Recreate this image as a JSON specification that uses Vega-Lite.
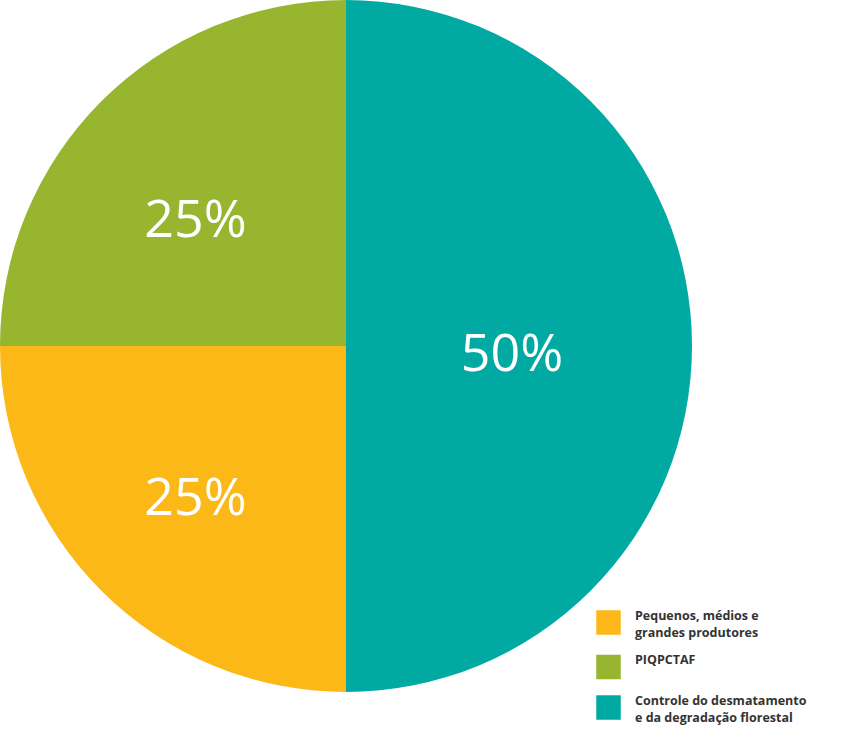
{
  "$schema": "https://vega.github.io/schema/vega-lite/v6.json",
  "width": 692,
  "height": 692,
  "autosize": {"type": "none"},
  "padding": {"left": 0, "top": 0, "right": 163, "bottom": 38},
  "background": "white",
  "config": {"view": {"stroke": null}, "font": "Open Sans", "style": {"guide-label": {"lineHeight": 17, "dy": -7}}},
  "data": {
    "values": [
      {"categoria": "Controle do desmatamento e da degradação florestal", "valor": 50, "rotulo": "50%", "ordem": 1},
      {"categoria": "Pequenos, médios e grandes produtores", "valor": 25, "rotulo": "25%", "ordem": 2},
      {"categoria": "PIQPCTAF", "valor": 25, "rotulo": "25%", "ordem": 3}
    ]
  },
  "encoding": {
    "theta": {"field": "valor", "type": "quantitative", "stack": true},
    "order": {"field": "ordem", "type": "quantitative"}
  },
  "layer": [
    {
      "mark": {"type": "arc", "outerRadius": 346},
      "encoding": {
        "color": {
          "field": "categoria",
          "type": "nominal",
          "scale": {
            "domain": ["Pequenos, médios e grandes produtores", "PIQPCTAF", "Controle do desmatamento e da degradação florestal"],
            "range": ["#FBB816", "#98B52F", "#00A9A2"]
          },
          "legend": {
            "title": null,
            "orient": "none",
            "legendX": 596,
            "legendY": 610,
            "padding": 0,
            "symbolType": "square",
            "symbolSize": 600,
            "symbolStrokeWidth": 0,
            "symbolOpacity": 1,
            "labelFont": "Open Sans",
            "labelFontWeight": 700,
            "labelFontSize": 12.5,
            "labelColor": "#333333",
            "labelOffset": 14,
            "labelLimit": 250,
            "rowPadding": 14.5,
            "labelExpr": "datum.label == 'Pequenos, médios e grandes produtores' ? ['Pequenos, médios e', 'grandes produtores'] : datum.label == 'PIQPCTAF' ? 'PIQPCTAF' : ['Controle do desmatamento', 'e da degradação florestal']"
          }
        }
      }
    },
    {
      "mark": {"type": "text", "radius": 166, "dy": 9, "fontSize": 52, "font": "Open Sans", "fontWeight": 400, "color": "white", "align": "center", "baseline": "middle"},
      "encoding": {"text": {"condition": {"test": "datum.valor == 50", "field": "rotulo"}, "value": ""}}
    },
    {
      "mark": {"type": "text", "radius": 213, "dy": 2, "fontSize": 52, "font": "Open Sans", "fontWeight": 400, "color": "white", "align": "center", "baseline": "middle"},
      "encoding": {"text": {"condition": {"test": "datum.categoria == 'Pequenos, médios e grandes produtores'", "field": "rotulo"}, "value": ""}}
    },
    {
      "mark": {"type": "text", "radius": 213, "dy": 26, "fontSize": 52, "font": "Open Sans", "fontWeight": 400, "color": "white", "align": "center", "baseline": "middle"},
      "encoding": {"text": {"condition": {"test": "datum.categoria == 'PIQPCTAF'", "field": "rotulo"}, "value": ""}}
    }
  ]
}
